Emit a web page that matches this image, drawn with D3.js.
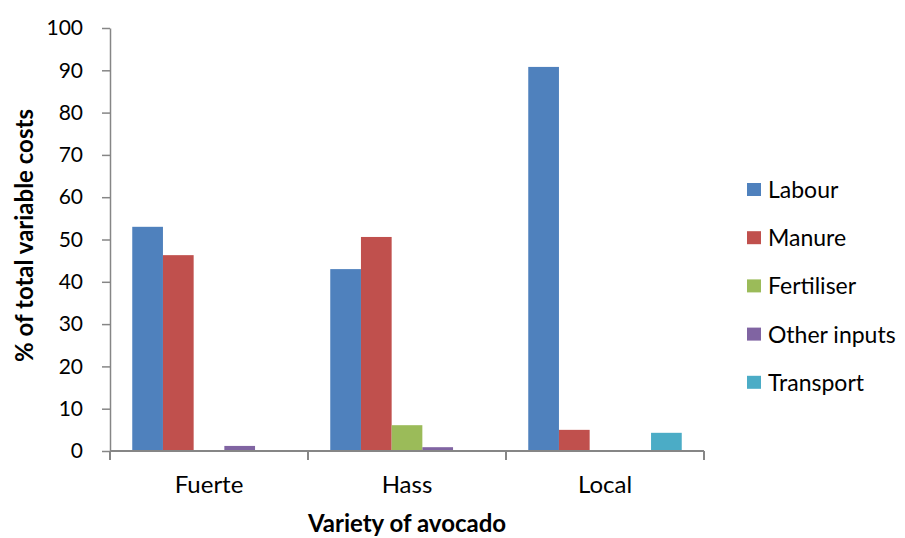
<!DOCTYPE html>
<html>
<head>
<meta charset="utf-8">
<script src="https://cdn.jsdelivr.net/npm/d3@7"></script>
<style>
  html, body { margin: 0; padding: 0; background: #fff; }
  svg { display: block; font-family: Lato, "Open Sans", sans-serif; }
</style>
</head>
<body>
<svg id="chart" width="905" height="538"></svg>
<script>
// Varieties and cost shares (% of total variable costs)
const varieties = ["Fuerte", "Hass", "Local"];
const seriesNames = ["Labour", "Manure", "Fertiliser", "Other inputs", "Transport"];
const labour     = [53.0, 43.0, 90.8];
const manure     = [46.3, 50.6, 5.0];
const fertiliser = [0, 6.1, 0];
const other      = [1.2, 0.9, 0];
const transport  = [0, 0, 4.3];
const yTicks = [0, 10, 20, 30, 40, 50, 60, 70, 80, 90, 100];
const colors = ["#4F81BD", "#C0504D", "#9BBB59", "#8064A2", "#4BACC6"];

const seriesValues = [labour, manure, fertiliser, other, transport];

const svg = d3.select("#chart");
const axisColor = "#868686";
const margin = { left: 110, right: 201, top: 28, bottom: 87 };
const W = 905, H = 538;

const x0 = d3.scaleBand().domain(varieties).range([margin.left, W - margin.right]).paddingInner(0).paddingOuter(0);
const x1 = d3.scaleBand().domain(seriesNames).range([0, x0.bandwidth()]).paddingInner(0).paddingOuter(0.725);
const y = d3.scaleLinear().domain([0, 100]).range([H - margin.bottom, margin.top]);

// Bars
varieties.forEach((v, i) => {
  const g = svg.append("g").attr("transform", `translate(${x0(v)},0)`);
  seriesNames.forEach((s, j) => {
    const val = seriesValues[j][i];
    if (val <= 0) return;
    g.append("rect")
      .attr("x", x1(s))
      .attr("y", y(val))
      .attr("width", x1.bandwidth())
      .attr("height", y(0) - y(val))
      .attr("fill", colors[j]);
  });
});

// Y axis
const yAxis = d3.axisLeft(y).tickValues(yTicks).tickSize(8).tickPadding(19).tickSizeOuter(0);
const gy = svg.append("g").attr("transform", `translate(${margin.left},0)`).call(yAxis);
gy.select(".domain").attr("stroke", axisColor).attr("stroke-width", 1.5);
gy.selectAll(".tick line").attr("stroke", axisColor).attr("stroke-width", 1.5);
gy.selectAll(".tick text").attr("font-size", 21).attr("fill", "#000").attr("font-family", "Lato, sans-serif");

// X axis with boundary ticks between categories
const gx = svg.append("g").attr("transform", `translate(0,${y(0)})`);
gx.append("line")
  .attr("x1", margin.left).attr("x2", W - margin.right)
  .attr("stroke", axisColor).attr("stroke-width", 2);
const bounds = varieties.map(v => x0(v)).concat([x0(varieties[varieties.length - 1]) + x0.bandwidth()]);
gx.selectAll(".bt").data(bounds).join("line")
  .attr("x1", d => d).attr("x2", d => d)
  .attr("y1", 0).attr("y2", 9)
  .attr("stroke", axisColor).attr("stroke-width", 2);
gx.selectAll(".cl").data(varieties).join("text")
  .attr("x", d => x0(d) + x0.bandwidth() / 2)
  .attr("y", 42)
  .attr("text-anchor", "middle")
  .attr("font-size", 24)
  .text(d => d);

// Axis titles
svg.append("text")
  .attr("transform", `translate(33,${(y(0) + y(100)) / 2 - 4}) rotate(-90)`)
  .attr("text-anchor", "middle")
  .attr("font-size", 24)
  .attr("font-weight", "bold")
  .text("% of total variable costs");

svg.append("text")
  .attr("x", (margin.left + W - margin.right) / 2)
  .attr("y", 532)
  .attr("text-anchor", "middle")
  .attr("font-size", 24)
  .attr("font-weight", "bold")
  .text("Variety of avocado");

// Legend
const legend = svg.append("g").attr("transform", "translate(747,190)");
seriesNames.forEach((s, j) => {
  const row = legend.append("g").attr("transform", `translate(0,${j * 48.2})`);
  row.append("rect").attr("x", 0).attr("y", -7).attr("width", 14).attr("height", 13).attr("fill", colors[j]);
  row.append("text").attr("x", 21).attr("y", 0).attr("dy", "0.35em").attr("font-size", 23).text(s);
});
</script>
</body>
</html>
